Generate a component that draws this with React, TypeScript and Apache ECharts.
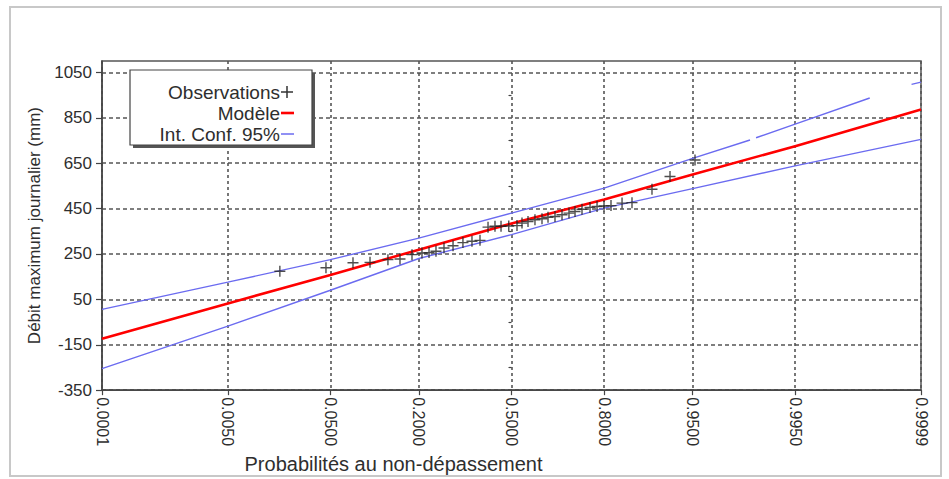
import React, { useEffect, useRef } from "react";
import * as echarts from "echarts";

// Tick labels (non-exceedance probabilities) on a normal-probability x axis
const probTicks = [0.0001, 0.005, 0.05, 0.2, 0.5, 0.8, 0.95, 0.995, 0.9999];
const probLabels = ["0.0001", "0.0050", "0.0500", "0.2000", "0.5000", "0.8000", "0.9500", "0.9950", "0.9999"];
const yTicks = [-350, -150, 50, 250, 450, 650, 850, 1050];
const yMinorTicks = [-250, -50, 150, 350, 550, 750, 950];

// Observations
const obsProb = [0.0177, 0.046, 0.075, 0.0994, 0.1309, 0.1556, 0.1831, 0.2081, 0.2269, 0.2464, 0.2699, 0.2977, 0.3296, 0.3598, 0.3874, 0.4156, 0.4404, 0.4621, 0.49, 0.5199, 0.538, 0.5596, 0.5844, 0.6091, 0.6299, 0.6536, 0.6768, 0.6992, 0.718, 0.739, 0.7621, 0.7814, 0.7996, 0.8169, 0.8423, 0.8631, 0.899, 0.925, 0.9522];
const obsValue = [174, 189, 211, 213, 225, 228, 247, 254, 256, 262, 276, 286, 300, 306, 310, 368, 372, 372, 373, 375, 386, 393, 401, 405, 412, 415, 423, 430, 437, 447, 455, 459, 461, 463, 474, 476, 535, 591, 664];

// Fitted model
const modelProb = [0.0001, 0.005, 0.05, 0.2, 0.5, 0.8, 0.95, 0.995, 0.9999];
const modelValue = [-123, 32, 157, 269, 384, 490, 600, 725, 886];

// 95% confidence interval
const upperProb = [0.0001, 0.005, 0.05, 0.2, 0.5, 0.8, 0.95, 0.98485, 0.9859, 0.98683, 0.995, 0.99943, 0.9997, 0.99986, 0.9999];
const upperValue = [6, 126, 225, 320, 430, 540, 671, 752, null, 762, 822, 937, null, 997, 1007];
const lowerProb = [0.0001, 0.005, 0.05, 0.2, 0.5, 0.8, 0.95, 0.995, 0.9999];
const lowerValue = [-255, -68, 90, 230, 335, 452, 538, 638, 755];

function invNorm(p: number): number {
  const a = [-3.969683028665376e1, 2.209460984245205e2, -2.759285104469687e2, 1.38357751867269e2, -3.066479806614716e1, 2.506628277386977];
  const b = [-5.447609879822406e1, 1.615858368580409e2, -1.556989798598866e2, 6.680131188771972e1, -1.328068155288572e1];
  const c = [-7.784894002430293e-3, -3.223964580411365e-1, -2.400758277161838, -2.549732539343734, 4.374664141464968, 2.938163982698783];
  const d = [7.784695709041462e-3, 3.224671290700398e-1, 2.445134137142996, 3.754408661907416];
  const pl = 0.02425;
  if (p < pl) {
    const q = Math.sqrt(-2 * Math.log(p));
    return (((((c[0] * q + c[1]) * q + c[2]) * q + c[3]) * q + c[4]) * q + c[5]) / ((((d[0] * q + d[1]) * q + d[2]) * q + d[3]) * q + 1);
  }
  if (p <= 1 - pl) {
    const q = p - 0.5;
    const r = q * q;
    return ((((((a[0] * r + a[1]) * r + a[2]) * r + a[3]) * r + a[4]) * r + a[5]) * q) / (((((b[0] * r + b[1]) * r + b[2]) * r + b[3]) * r + b[4]) * r + 1);
  }
  const q = Math.sqrt(-2 * Math.log(1 - p));
  return -(((((c[0] * q + c[1]) * q + c[2]) * q + c[3]) * q + c[4]) * q + c[5]) / ((((d[0] * q + d[1]) * q + d[2]) * q + d[3]) * q + 1);
}

const FONT = '"Liberation Sans", Arial, sans-serif';
const BLUE = "#6b6bf0";
const TXT = "#2e2e2e";

export default function App() {
  const ref = useRef<HTMLDivElement>(null);
  useEffect(() => {
    if (!ref.current) return;
    const chart = echarts.init(ref.current, null, { renderer: "svg" });
    const zTicks = probTicks.map(invNorm);
    const zMin = zTicks[0];
    const zMax = zTicks[zTicks.length - 1];
    const fmtX = (v: number) => {
      for (let i = 0; i < zTicks.length; i++) if (Math.abs(zTicks[i] - v) < 1e-6) return probLabels[i];
      return "";
    };
    const pairs = (ps: number[], vs: (number | null)[]) => ps.map((p, i) => [invNorm(p), vs[i] == null ? "-" : vs[i]]);

    const option: any = {
      animation: false,
      backgroundColor: "#ffffff",
      grid: { left: 102, right: 28, top: 61, bottom: 88, show: true, borderColor: "#555", borderWidth: 1.5, backgroundColor: "transparent" },
      xAxis: [
        {
          type: "value",
          position: "bottom",
          min: zMin,
          max: zMax,
          axisLine: { show: true, onZero: false, lineStyle: { color: "#444", width: 1.5 } },
          axisTick: { show: true, customValues: zTicks, length: 5, lineStyle: { color: "#444", width: 1.2 } },
          axisLabel: { customValues: zTicks, rotate: -90, margin: 7, formatter: fmtX, fontSize: 16, fontFamily: FONT, color: TXT, showMinLabel: true, showMaxLabel: true },
          splitLine: { show: true, lineStyle: { color: "#555", width: 1.6, type: [3, 3] } },
          name: "Probabilités au non-dépassement",
          nameLocation: "middle",
          nameGap: 53,
          nameTextStyle: { fontSize: 20, fontFamily: FONT, color: TXT, padding: [0, 236, 0, 0] },
        },
        {
          type: "value",
          position: "top",
          min: zMin,
          max: zMax,
          axisLine: { show: false },
          axisTick: { show: true, customValues: zTicks, length: 3, lineStyle: { color: "#555", width: 1.2 } },
          axisLabel: { show: false },
          splitLine: { show: false },
        },
      ],
      yAxis: [
        {
          type: "value",
          min: -350,
          max: 1100,
          axisLine: { show: true, onZero: false, lineStyle: { color: "#444", width: 1.5 } },
          axisTick: { show: true, customValues: yTicks, length: 6, lineStyle: { color: "#444", width: 1.2 } },
          axisLabel: { customValues: yTicks, margin: 10, fontSize: 17, fontFamily: FONT, color: TXT, formatter: (v: number) => String(v) },
          splitLine: { show: true, lineStyle: { color: "#555", width: 1.6, type: [4, 3] } },
          name: "Débit maximum journalier (mm)",
          nameLocation: "middle",
          nameGap: 58,
          nameTextStyle: { fontSize: 17, fontFamily: FONT, color: TXT },
        },
        {
          type: "value",
          position: "left",
          min: -350,
          max: 1100,
          axisLine: { show: false },
          axisTick: { show: true, customValues: yMinorTicks, length: 3, lineStyle: { color: "#444", width: 1.2 } },
          axisLabel: { show: false },
          splitLine: { show: false },
        },
      ],
      series: [
        {
          name: "Int. Conf. 95% (sup)",
          type: "line",
          data: pairs(upperProb, upperValue),
          showSymbol: false,
          connectNulls: false,
          lineStyle: { color: BLUE, width: 1.4 },
          z: 3,
        },
        {
          name: "Int. Conf. 95% (inf)",
          type: "line",
          data: pairs(lowerProb, lowerValue),
          showSymbol: false,
          lineStyle: { color: BLUE, width: 1.4 },
          z: 3,
        },
        {
          name: "Modèle",
          type: "line",
          data: pairs(modelProb, modelValue),
          showSymbol: false,
          lineStyle: { color: "#ff0000", width: 2.6 },
          z: 4,
        },
        {
          name: "Observations",
          type: "scatter",
          data: pairs(obsProb, obsValue),
          symbol: "path://M0,5L10,5M5,0L5,10",
          symbolSize: [11, 11],
          itemStyle: { color: "rgba(0,0,0,0)", borderColor: "#222", borderWidth: 1.4 },
          z: 5,
        },
      ],
      graphic: [
        { type: "rect", silent: true, z: 0, shape: { x: 10, y: 7, width: 931, height: 469 }, style: { fill: "none", stroke: "#c8c8c8", lineWidth: 2 } },
        { type: "rect", z: 100, shape: { x: 133, y: 73, width: 182, height: 75 }, style: { fill: "#555" } },
        { type: "rect", z: 101, shape: { x: 130, y: 70, width: 182, height: 75 }, style: { fill: "#fff", stroke: "#444", lineWidth: 1.2 } },
        { type: "text", z: 102, style: { text: "Observations", x: 280, y: 92, align: "right", textAlign: "right", verticalAlign: "middle", textVerticalAlign: "middle", font: `19px ${FONT}`, fill: TXT } },
        { type: "text", z: 102, style: { text: "Modèle", x: 280, y: 113, align: "right", textAlign: "right", verticalAlign: "middle", textVerticalAlign: "middle", font: `19px ${FONT}`, fill: TXT } },
        { type: "text", z: 102, style: { text: "Int. Conf. 95%", x: 280, y: 134, align: "right", textAlign: "right", verticalAlign: "middle", textVerticalAlign: "middle", font: `19px ${FONT}`, fill: TXT } },
        { type: "line", z: 102, shape: { x1: 281, y1: 92, x2: 293, y2: 92 }, style: { stroke: "#333", lineWidth: 1.5 } },
        { type: "line", z: 102, shape: { x1: 287, y1: 86, x2: 287, y2: 98 }, style: { stroke: "#333", lineWidth: 1.5 } },
        { type: "line", z: 102, shape: { x1: 281, y1: 113, x2: 294, y2: 113 }, style: { stroke: "#ff0000", lineWidth: 2.6 } },
        { type: "line", z: 102, shape: { x1: 281, y1: 134, x2: 294, y2: 134 }, style: { stroke: BLUE, lineWidth: 1.5 } },
      ],
    };
    chart.setOption(option);
    return () => chart.dispose();
  }, []);
  return <div ref={ref} style={{ position: "fixed", left: 0, top: 0, width: 949, height: 479 }} />;
}
